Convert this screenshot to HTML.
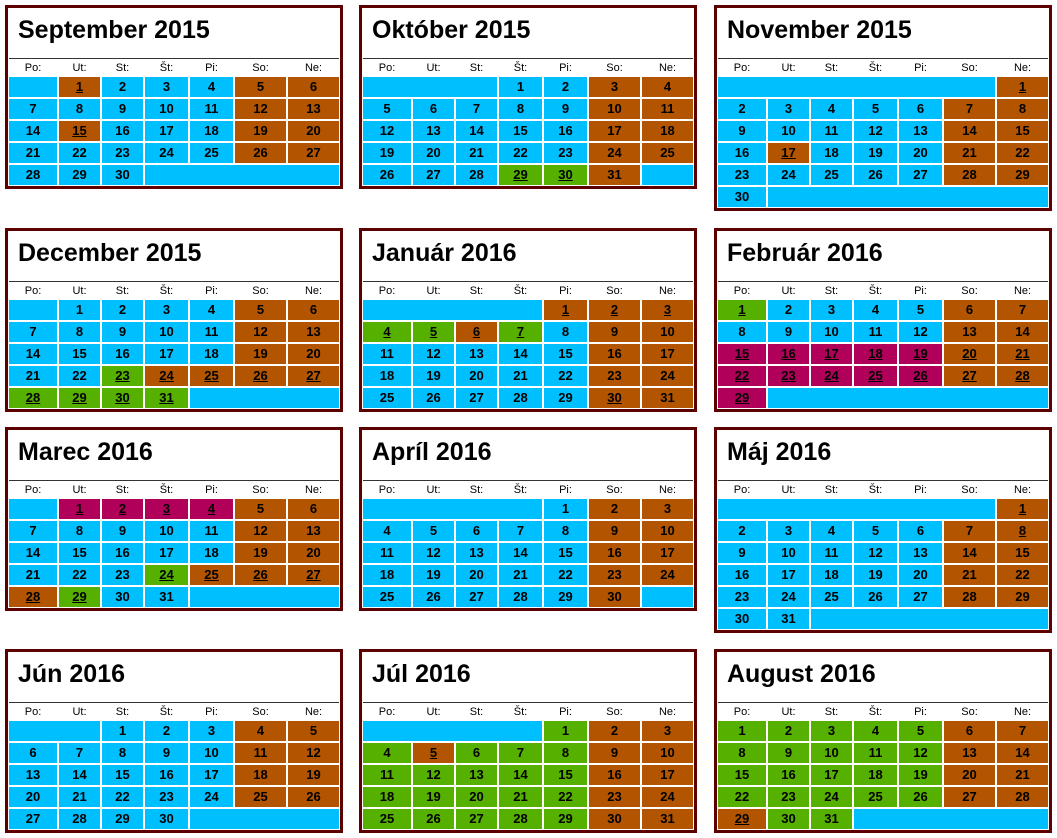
<!DOCTYPE html>
<html><head><meta charset="utf-8">
<style>
body{margin:0;width:1057px;height:838px;background:#fff;position:relative;overflow:hidden;font-family:"Liberation Sans",Arial,sans-serif;}
.box{position:absolute;width:332px;border:3px solid #5c0000;background:#fff;}
.title{height:50px;box-sizing:border-box;padding:7px 0 0 10px;font-size:25px;font-weight:bold;line-height:30px;color:#000;}
.sep{margin:0 1px;height:1px;background:#333;}
.hdr,.grid{display:grid;grid-template-columns:48px 41px 41px 43px 43px 51px 51px;column-gap:2px;margin:0 1px;}
.hdr div{height:18px;line-height:18px;text-align:center;font-size:11px;color:#000;}
.grid{row-gap:2px;padding-bottom:1px;}
.grid div{height:20px;line-height:20px;text-align:center;font-size:13px;font-weight:bold;color:#000;}
.b{background:#00bfff}.w{background:#b35500}.g{background:#55b000}.m{background:#b0005a}
.u{text-decoration:underline}
</style></head><body>
<script>
const monthNames=["September 2015","Október 2015","November 2015","December 2015","Január 2016","Február 2016","Marec 2016","Apríl 2016","Máj 2016","Jún 2016","Júl 2016","August 2016"];
const startOffsets=[1,3,6,1,4,0,1,4,6,2,4,0];
const dayCounts=[30,31,30,31,31,29,31,30,31,30,31,31];
// special days: "day:class" (w brown, g green, m magenta), all underlined
const specials=[
 ["1:w","15:w"],
 ["29:g","30:g"],
 ["1:w","17:w"],
 ["23:g","24:w","25:w","26:w","27:w","28:g","29:g","30:g","31:g"],
 ["1:w","2:w","3:w","4:g","5:g","6:w","7:g","30:w"],
 ["1:g","15:m","16:m","17:m","18:m","19:m","20:w","21:w","22:m","23:m","24:m","25:m","26:m","27:w","28:w","29:m"],
 ["1:m","2:m","3:m","4:m","24:g","25:w","26:w","27:w","28:w","29:g"],
 [],
 ["1:w","8:w"],
 [],
 ["5:w"],
 ["29:w"]
];
// months where all non-special weekdays are green (summer holidays)
const greenWeekdays=[10,11];
const lefts=[5,359,714];
const tops=[5,228,427,649];
const heads=["Po:","Ut:","St:","Št:","Pi:","So:","Ne:"];
monthNames.forEach((name,i)=>{
  const box=document.createElement('div');
  box.className='box';
  
  
  box.style.left=lefts[i%3]+'px';box.style.top=tops[Math.floor(i/3)]+'px';
  const t=document.createElement('div');t.className='title';t.textContent=name;
  
  
  box.appendChild(t);
  const s=document.createElement('div');s.className='sep';
  
  
  box.appendChild(s);
  const h=document.createElement('div');h.className='hdr';
  
  
  heads.forEach(x=>{const d=document.createElement('div');d.textContent=x;
    
    
    h.appendChild(d);});
  box.appendChild(h);
  const g=document.createElement('div');g.className='grid';
  
  
  const sp={};specials[i].forEach(x=>{const [d,c]=x.split(':');sp[+d]=c;});
  const off=startOffsets[i],n=dayCounts[i];
  if(off>0){const e=document.createElement('div');e.className='b';e.style.gridColumn='span '+off;
    
    
    g.appendChild(e);}
  for(let d=1;d<=n;d++){
    const wd=(off+d-1)%7;
    const c=document.createElement('div');
    let cls;
    if(sp[d]){cls=sp[d]+' u';}
    else if(wd>=5){cls='w';}
    else if(greenWeekdays.includes(i)){cls='g';}
    else cls='b';
    c.className=cls;c.textContent=d;
    
    
    g.appendChild(c);
  }
  const rem=(7-(off+n)%7)%7;
  if(rem>0){const e=document.createElement('div');e.className='b';e.style.gridColumn='span '+rem;
    
    
    g.appendChild(e);}
  box.appendChild(g);
  document.body.appendChild(box);
});
</script>
</body></html>
